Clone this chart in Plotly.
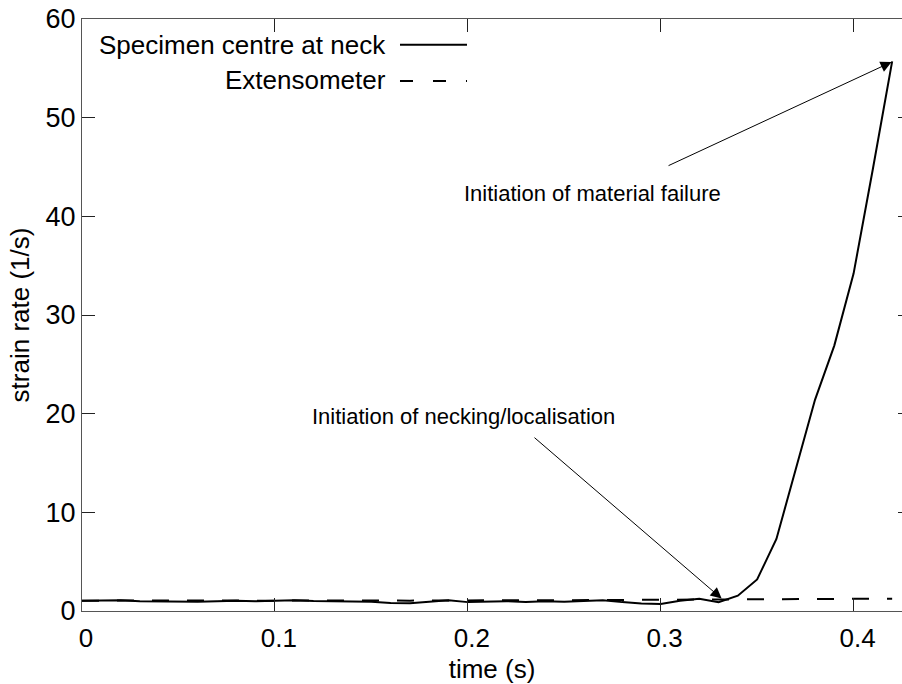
import plotly.graph_objects as go

# ---- data ----
time_s = [round(0.01 * i, 2) for i in range(43)]
neck_rate = [1.05, 1.08, 1.10, 1.00, 0.98, 1.02, 0.95, 1.00, 1.05, 1.00,
             1.05, 1.10, 1.02, 0.98, 1.00, 0.95, 0.82, 0.78, 0.95, 1.10,
             0.90, 0.95, 1.00, 0.92, 1.00, 0.95, 1.00, 1.10, 0.90, 0.75,
             0.72, 1.05, 1.25, 0.90, 1.55, 3.20, 7.30, 14.3, 21.4, 26.9,
             34.2, 44.8, 55.7]
ext_rate = [1.05, 1.06, 1.05, 1.03, 1.04, 1.05, 1.04, 1.05, 1.06, 1.05,
            1.06, 1.07, 1.06, 1.05, 1.06, 1.07, 1.06, 1.05, 1.07, 1.08,
            1.07, 1.08, 1.09, 1.08, 1.09, 1.10, 1.10, 1.11, 1.12, 1.12,
            1.13, 1.14, 1.15, 1.16, 1.17, 1.18, 1.19, 1.20, 1.21, 1.22,
            1.23, 1.24, 1.25]
x_ticks = [0, 0.1, 0.2, 0.3, 0.4]
x_tick_labels = ["0", "0.1", "0.2", "0.3", "0.4"]
y_ticks = [0, 10, 20, 30, 40, 50, 60]
series_names = ["Specimen centre at neck", "Extensometer"]

FONT = "Liberation Sans, Arial, Helvetica, sans-serif"

fig = go.Figure()
fig.add_trace(go.Scatter(x=time_s, y=neck_rate, mode="lines",
                         line=dict(color="black", width=2),
                         name=series_names[0], showlegend=False))
fig.add_trace(go.Scatter(x=time_s, y=ext_rate, mode="lines",
                         line=dict(color="black", width=2, dash="17px,18px"),
                         name=series_names[1], showlegend=False))
# invisible trace to activate right-side tick axis
fig.add_trace(go.Scatter(x=[], y=[], yaxis="y2", showlegend=False))

# legend (text left of sample line, as in original)
fig.add_annotation(xref="paper", yref="paper", x=0.3732, y=0.956,
                   xanchor="right", yanchor="middle", showarrow=False,
                   text=series_names[0], font=dict(family=FONT, size=26, color="black"))
fig.add_annotation(xref="paper", yref="paper", x=0.3732, y=0.897,
                   xanchor="right", yanchor="middle", showarrow=False,
                   text=series_names[1], font=dict(family=FONT, size=26, color="black"))
fig.add_shape(type="line", xref="paper", yref="paper", x0=0.3878, x1=0.4695,
              y0=0.9566, y1=0.9566, line=dict(color="black", width=2))
fig.add_shape(type="line", xref="paper", yref="paper", x0=0.3878, x1=0.4695,
              y0=0.8953, y1=0.8953, line=dict(color="black", width=2, dash="13px,20px"))

# annotation texts
fig.add_annotation(x=0.2646, y=42.33, text="Initiation of material failure",
                   showarrow=False, font=dict(family=FONT, size=22, color="black"))
fig.add_annotation(x=0.198, y=19.73, text="Initiation of necking/localisation",
                   showarrow=False, font=dict(family=FONT, size=22, color="black"))
# arrows
fig.add_annotation(x=0.4197, y=55.64, ax=0.3033, ay=45.07, axref="x", ayref="y",
                   text="", showarrow=True, arrowhead=2, arrowsize=2.2,
                   arrowwidth=1, arrowcolor="black", standoff=0, startstandoff=0)
fig.add_annotation(x=0.3316, y=1.26, ax=0.2338, ay=17.7, axref="x", ayref="y",
                   text="", showarrow=True, arrowhead=2, arrowsize=2.2,
                   arrowwidth=1, arrowcolor="black", standoff=0, startstandoff=0)

fig.update_layout(
    width=902, height=684,
    margin=dict(l=82, r=0, t=19, b=73),
    plot_bgcolor="white", paper_bgcolor="white",
    font=dict(family=FONT, color="black"),
    xaxis=dict(range=[0, 0.4251], tickvals=x_ticks, ticktext=x_tick_labels,
               ticks="inside", ticklen=13, tickwidth=1, tickcolor="#222",
               showline=True, linecolor="#555", linewidth=1, mirror="ticks",
               showgrid=False, zeroline=False,
               tickfont=dict(family=FONT, size=26, color="black"),
               ticklabelshift=4, ticklabelstandoff=4,
               title=dict(text="time (s)", font=dict(family=FONT, size=26, color="black"),
                          standoff=14)),
    yaxis=dict(range=[0, 60], tickvals=y_ticks,
               ticks="inside", ticklen=13, tickwidth=1, tickcolor="#222",
               showline=True, linecolor="#555", linewidth=1, mirror=False,
               showgrid=False, zeroline=False,
               tickfont=dict(family=FONT, size=27, color="black"),
               title=dict(text="strain rate (1/s)", font=dict(family=FONT, size=26, color="black"),
                          standoff=8)),
    yaxis2=dict(range=[0, 60], tickvals=y_ticks, overlaying="y", side="right",
                ticks="inside", ticklen=4, tickwidth=1, tickcolor="#222",
                showline=False, showgrid=False, zeroline=False, showticklabels=False),
)

fig.write_html("out.html")
